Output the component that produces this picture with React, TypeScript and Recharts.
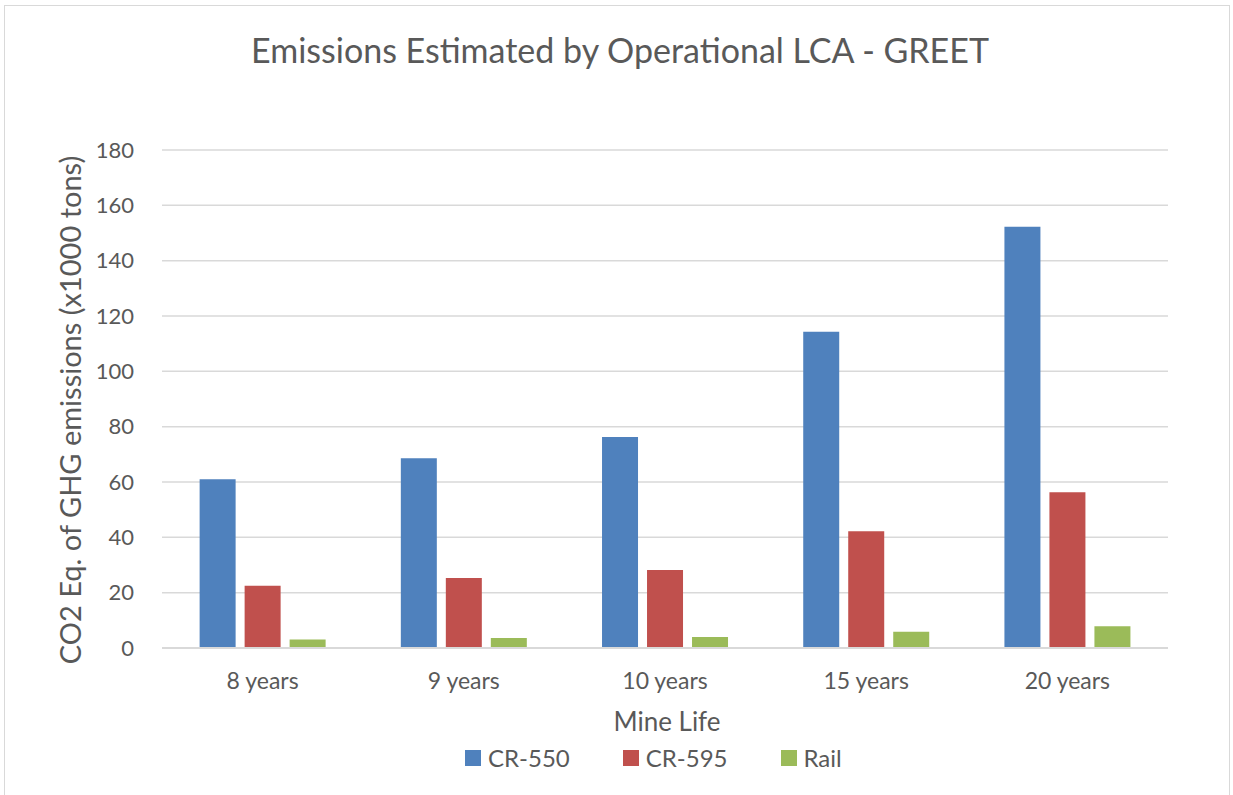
import { BarChart, Bar, XAxis, YAxis, CartesianGrid, Legend } from 'recharts';

const categories = ['8 years', '9 years', '10 years', '15 years', '20 years'];
const cr550 = [61.0, 68.6, 76.3, 114.3, 152.3];
const cr595 = [22.5, 25.3, 28.2, 42.2, 56.3];
const rail = [3.1, 3.6, 4.0, 5.9, 7.9];
const yTicks = [0, 20, 40, 60, 80, 100, 120, 140, 160, 180];

const SERIES = [
  { key: 'CR-550', color: '#4F81BD' },
  { key: 'CR-595', color: '#C0504D' },
  { key: 'Rail', color: '#9BBB59' },
];

const data = categories.map((name, i) => ({
  name,
  'CR-550': cr550[i],
  'CR-595': cr595[i],
  Rail: rail[i],
}));

const FONT = 'Lato, "Open Sans", sans-serif';
const TEXT = '#595959';
const GRID = '#d9d9d9';

const YLabel = ({ viewBox }: any) => (
  <text
    transform={`translate(${viewBox.x + 69}, ${viewBox.y + viewBox.height / 2 + 11}) rotate(-90)`}
    textAnchor="middle"
    dominantBaseline="central"
    fill={TEXT}
    fontSize={29}
    fontFamily={FONT}
  >
    CO2 Eq. of GHG emissions (x1000 tons)
  </text>
);

const XLabel = ({ viewBox }: any) => (
  <text
    x={viewBox.x + viewBox.width / 2 + 2}
    y={viewBox.y + 83}
    textAnchor="middle"
    fill={TEXT}
    fontSize={26}
    fontFamily={FONT}
  >
    Mine Life
  </text>
);

const LegendContent = () => (
  <div style={{ display: 'flex', paddingLeft: 465, paddingTop: 2, height: 45, fontFamily: FONT }}>
    {SERIES.map((s) => (
      <div key={s.key} style={{ display: 'flex', alignItems: 'center', marginRight: 53, height: 16 }}>
        <span style={{ width: 16, height: 16, background: s.color, marginRight: 7 }} />
        <span style={{ color: TEXT, fontSize: 24, lineHeight: 1 }}>{s.key}</span>
      </div>
    ))}
  </div>
);

export default function App() {
  return (
    <div style={{ position: 'relative', width: 1233, height: 795, overflow: 'hidden', background: '#fff' }}>
      <style>{'body{margin:0}'}</style>
      <div
        style={{
          position: 'absolute',
          left: 4,
          top: 5,
          width: 1226,
          height: 810,
          border: `1px solid ${GRID}`,
          boxSizing: 'border-box',
        }}
      />
      <div
        style={{
          position: 'absolute',
          left: 0,
          top: 29,
          width: 1240,
          textAlign: 'center',
          fontFamily: FONT,
          fontSize: 34,
          color: TEXT,
          lineHeight: '42px',
        }}
      >
        Emissions Estimated by Operational LCA - GREET
      </div>
      <BarChart
        width={1233}
        height={795}
        data={data}
        margin={{ top: 150, right: 65, bottom: 0, left: 0 }}
        barCategoryGap="18.7%"
        barGap={9}
        style={{ position: 'absolute', left: 0, top: 0 }}
      >
        <CartesianGrid vertical={false} stroke={GRID} strokeWidth={1.5} />
        <XAxis
          dataKey="name"
          height={100}
          tickLine={false}
          tickSize={0}
          tickMargin={25}
          axisLine={{ stroke: GRID, strokeWidth: 2 }}
          tick={{ fill: TEXT, fontSize: 23, fontFamily: FONT }}
          label={<XLabel />}
        />
        <YAxis
          width={162}
          domain={[0, 180]}
          ticks={yTicks}
          interval={0}
          axisLine={false}
          tickLine={false}
          tickSize={0}
          tickMargin={28}
          tick={{ fill: TEXT, fontSize: 22, fontFamily: FONT }}
          label={<YLabel />}
        />
        <Legend
          verticalAlign="bottom"
          height={47}
          content={<LegendContent />}
          wrapperStyle={{ left: 0, width: 1233 }}
        />
        {SERIES.map((s) => (
          <Bar key={s.key} dataKey={s.key} fill={s.color} isAnimationActive={false} />
        ))}
      </BarChart>
    </div>
  );
}
